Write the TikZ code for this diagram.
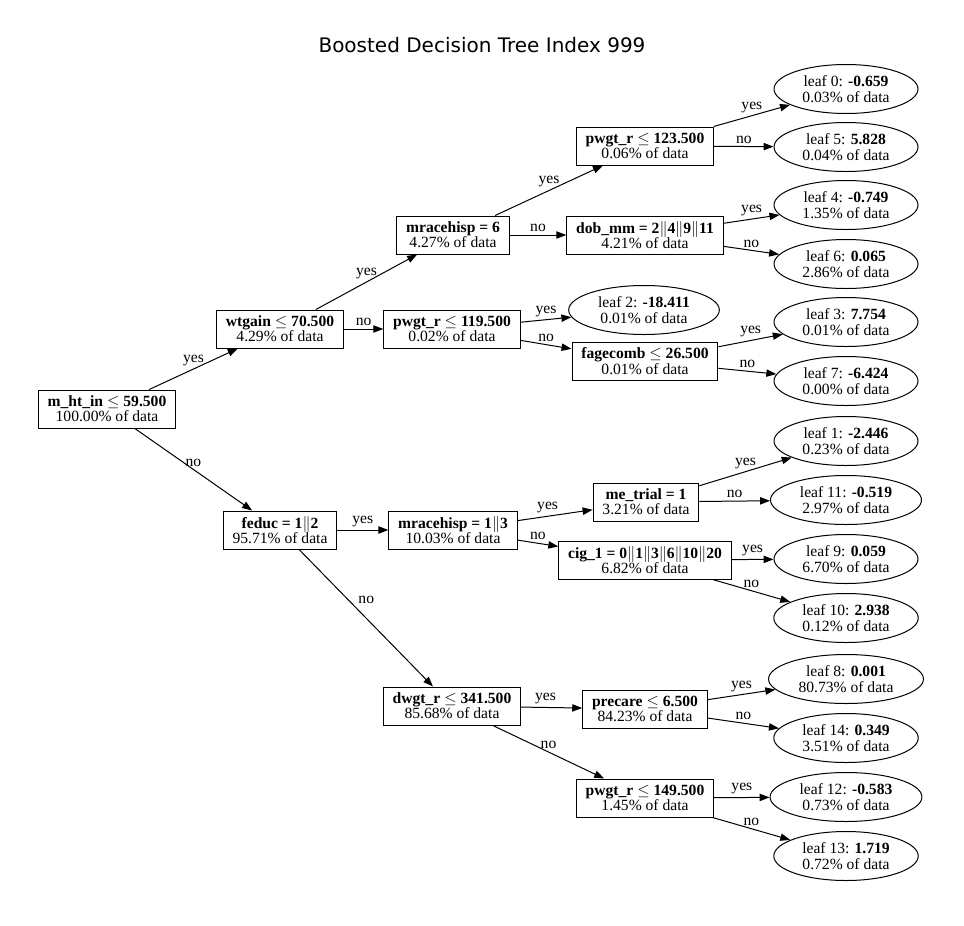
\documentclass[tikz,border=0pt]{standalone}
\usepackage{fontspec}
\setmainfont{Liberation Serif}
\newfontfamily\titlefont{DejaVu Sans}
\usetikzlibrary{arrows.meta,shapes.geometric}
\tikzset{
  split/.style={draw,line width=0.75pt,rectangle,align=center,inner xsep=7pt,
                minimum height=28.5pt,font=\fontsize{11.7}{11.5}\selectfont},
  leaf/.style={draw,line width=0.75pt,ellipse,align=center,inner xsep=5.5pt,inner ysep=0pt,
               minimum width=108pt,minimum height=36.75pt,font=\fontsize{11.7}{11.5}\selectfont},
  arr/.style={-{Triangle[length=7.5pt,width=5.5pt]},line width=0.75pt},
  lbl/.style={font=\fontsize{11.7}{11.5}\selectfont,midway,above,inner sep=2pt}
}

\begin{document}
\begin{tikzpicture}[x=0.75pt,y=-0.75pt]
    \useasboundingbox (0,0) rectangle (964,925);
    \node[font=\titlefont\fontsize{15}{17}\selectfont] (title) at (482,45)
         {Boosted Decision Tree Index 999};
    % split nodes
    \node[split] (root) at (107,409) {\textbf{m\_ht\_in} $\leq$ \textbf{59.500}\\100.00\% of data};
    \node[split] (wtgain) at (280,329) {\textbf{wtgain} $\leq$ \textbf{70.500}\\4.29\% of data};
    \node[split] (feduc) at (280,530) {\textbf{feduc = 1$\|$2}\\95.71\% of data};
    \node[split] (mrsix) at (453,235) {\textbf{mracehisp = 6}\\4.27\% of data};
    \node[split] (pwlow) at (452,329) {\textbf{pwgt\_r} $\leq$ \textbf{119.500}\\0.02\% of data};
    \node[split] (mrone) at (453,530) {\textbf{mracehisp = 1$\|$3}\\10.03\% of data};
    \node[split] (dwgt) at (452,706) {\textbf{dwgt\_r} $\leq$ \textbf{341.500}\\85.68\% of data};
    \node[split] (pwmid) at (645,146) {\textbf{pwgt\_r} $\leq$ \textbf{123.500}\\0.06\% of data};
    \node[split] (dobmm) at (645,235) {\textbf{dob\_mm = 2$\|$4$\|$9$\|$11}\\4.21\% of data};
    \node[split] (fage) at (645,361) {\textbf{fagecomb} $\leq$ \textbf{26.500}\\0.01\% of data};
    \node[split] (metrial) at (646,502) {\textbf{me\_trial = 1}\\3.21\% of data};
    \node[split] (cig) at (645,560) {\textbf{cig\_1 = 0$\|$1$\|$3$\|$6$\|$10$\|$20}\\6.82\% of data};
    \node[split] (precare) at (645,709) {\textbf{precare} $\leq$ \textbf{6.500}\\84.23\% of data};
    \node[split] (pwhigh) at (645,798) {\textbf{pwgt\_r} $\leq$ \textbf{149.500}\\1.45\% of data};
    % leaves
    \node[leaf] (leafA) at (846,89) {leaf 0: \textbf{-0.659}\\0.03\% of data};
    \node[leaf] (leafB) at (846,147) {leaf 5: \textbf{5.828}\\0.04\% of data};
    \node[leaf] (leafC) at (846,205) {leaf 4: \textbf{-0.749}\\1.35\% of data};
    \node[leaf] (leafD) at (846,264) {leaf 6: \textbf{0.065}\\2.86\% of data};
    \node[leaf] (leafE) at (644,310) {leaf 2: \textbf{-18.411}\\0.01\% of data};
    \node[leaf] (leafF) at (846,322) {leaf 3: \textbf{7.754}\\0.01\% of data};
    \node[leaf] (leafG) at (846,381) {leaf 7: \textbf{-6.424}\\0.00\% of data};
    \node[leaf] (leafH) at (846,441) {leaf 1: \textbf{-2.446}\\0.23\% of data};
    \node[leaf] (leafI) at (846,500) {leaf 11: \textbf{-0.519}\\2.97\% of data};
    \node[leaf] (leafJ) at (846,559) {leaf 9: \textbf{0.059}\\6.70\% of data};
    \node[leaf] (leafK) at (846,618) {leaf 10: \textbf{2.938}\\0.12\% of data};
    \node[leaf] (leafL) at (846,679) {leaf 8: \textbf{0.001}\\80.73\% of data};
    \node[leaf] (leafM) at (846,738) {leaf 14: \textbf{0.349}\\3.51\% of data};
    \node[leaf] (leafN) at (846,797) {leaf 12: \textbf{-0.583}\\0.73\% of data};
    \node[leaf] (leafO) at (846,856) {leaf 13: \textbf{1.719}\\0.72\% of data};
    % edges
    \draw[arr] (root) -- node[lbl]{yes} (wtgain);
    \draw[arr] (root) -- node[lbl]{no} (feduc);
    \draw[arr] (wtgain) -- node[lbl]{yes} (mrsix);
    \draw[arr] (wtgain) -- node[lbl]{no} (pwlow);
    \draw[arr] (mrsix) -- node[lbl]{yes} (pwmid);
    \draw[arr] (mrsix) -- node[lbl]{no} (dobmm);
    \draw[arr] (pwmid) -- node[lbl]{yes} (leafA);
    \draw[arr] (pwmid) -- node[lbl]{no} (leafB);
    \draw[arr] (dobmm) -- node[lbl]{yes} (leafC);
    \draw[arr] (dobmm) -- node[lbl]{no} (leafD);
    \draw[arr] (pwlow) -- node[lbl]{yes} (leafE);
    \draw[arr] (pwlow) -- node[lbl]{no} (fage);
    \draw[arr] (fage) -- node[lbl]{yes} (leafF);
    \draw[arr] (fage) -- node[lbl]{no} (leafG);
    \draw[arr] (feduc) -- node[lbl]{yes} (mrone);
    \draw[arr] (feduc) -- node[lbl,pos=0.42,above right]{no} (dwgt);
    \draw[arr] (mrone) -- node[lbl,pos=0.4]{yes} (metrial);
    \draw[arr] (mrone) -- node[lbl]{no} (cig);
    \draw[arr] (metrial) -- node[lbl]{yes} (leafH);
    \draw[arr] (metrial) -- node[lbl]{no} (leafI);
    \draw[arr] (cig) -- node[lbl]{yes} (leafJ);
    \draw[arr] (cig) -- node[lbl]{no} (leafK);
    \draw[arr] (dwgt) -- node[lbl,pos=0.4]{yes} (precare);
    \draw[arr] (dwgt) -- node[lbl]{no} (pwhigh);
    \draw[arr] (precare) -- node[lbl]{yes} (leafL);
    \draw[arr] (precare) -- node[lbl]{no} (leafM);
    \draw[arr] (pwhigh) -- node[lbl]{yes} (leafN);
    \draw[arr] (pwhigh) -- node[lbl]{no} (leafO);
\end{tikzpicture}
\end{document}
